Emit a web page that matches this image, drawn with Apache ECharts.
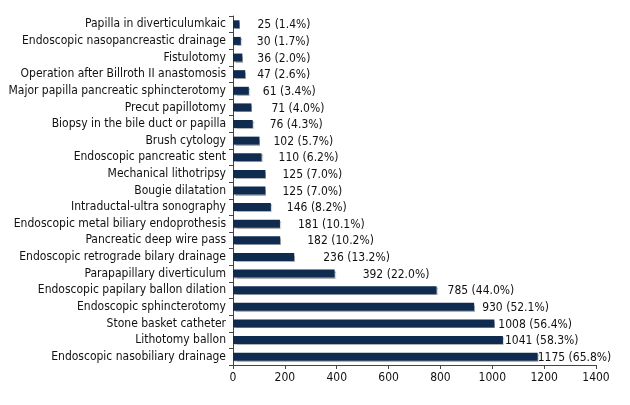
<!DOCTYPE html>
<html>
<head>
<meta charset="utf-8">
<script src="https://cdn.jsdelivr.net/npm/echarts@6/dist/echarts.min.js"></script>
<style>
  html, body { margin: 0; padding: 0; background: #fff; }
  #chart { width: 630px; height: 405px; }
</style>
</head>
<body>
<div id="chart"></div>
<script>
// categories listed top to bottom
const categories = [
  'Papilla in diverticulumkaic',
  'Endoscopic nasopancreastic drainage',
  'Fistulotomy',
  'Operation after Billroth II anastomosis',
  'Major papilla pancreatic sphincterotomy',
  'Precut papillotomy',
  'Biopsy in the bile duct or papilla',
  'Brush cytology',
  'Endoscopic pancreatic stent',
  'Mechanical lithotripsy',
  'Bougie dilatation',
  'Intraductal-ultra sonography',
  'Endoscopic metal biliary endoprothesis',
  'Pancreatic deep wire pass',
  'Endoscopic retrograde bilary drainage',
  'Parapapillary diverticulum',
  'Endoscopic papilary ballon dilation',
  'Endoscopic sphincterotomy',
  'Stone basket catheter',
  'Lithotomy ballon',
  'Endoscopic nasobiliary drainage'
]
const counts = [25, 30, 36, 47, 61, 71, 76, 102, 110, 125, 125, 146, 181, 182, 236, 392, 785, 930, 1008, 1041, 1175]
const percents = ['1.4', '1.7', '2.0', '2.6', '3.4', '4.0', '4.3', '5.7', '6.2', '7.0', '7.0', '8.2', '10.1', '10.2', '13.2', '22.0', '44.0', '52.1', '56.4', '58.3', '65.8']
const xTicks = [0, 200, 400, 600, 800, 1000, 1200, 1400]

// label gap after each bar end (px), as placed in the original
const labelGap = [18, 16, 15, 12, 14, 20, 17, 14, 17, 17, 17, 16, 18, 27, 29, 28, 11, 8, 4, 2, 0]

const font = "'DejaVu Sans Condensed', sans-serif"
const chart = echarts.init(document.getElementById('chart'))

chart.setOption({
  animation: false,
  grid: { left: 233, right: 34, top: 16, bottom: 40, outerBoundsMode: 'none', containLabel: false },
  xAxis: {
    type: 'value',
    min: xTicks[0],
    max: xTicks[xTicks.length - 1],
    interval: 200,
    splitLine: { show: false },
    axisLine: { show: true, lineStyle: { color: '#444', width: 1 } },
    axisTick: { show: true, length: 4, lineStyle: { color: '#444' } },
    axisLabel: { color: '#111', fontSize: 12, fontFamily: font, margin: 7, formatter: v => String(v) }
  },
  yAxis: {
    type: 'category',
    inverse: true,
    data: categories,
    axisLine: { lineStyle: { color: '#444', width: 1 } },
    axisTick: { show: true, length: 4, lineStyle: { color: '#444' } },
    axisLabel: { color: '#111', fontSize: 12, fontFamily: font, margin: 7, interval: 0 }
  },
  series: [{
    type: 'bar',
    barWidth: 8,
    data: counts.map((v, i) => ({
      value: v,
      label: { offset: [labelGap[i], 1] }
    })),
    itemStyle: {
      color: '#0f2b50',
      shadowColor: 'rgba(0,0,0,0.3)',
      shadowBlur: 1,
      shadowOffsetX: 1,
      shadowOffsetY: 1
    },
    label: {
      show: true,
      position: 'right',
      distance: 0,
      color: '#111',
      fontSize: 12,
      fontFamily: font,
      formatter: p => `${p.value} (${percents[p.dataIndex]}%)`
    }
  }]
})
</script>
</body>
</html>
